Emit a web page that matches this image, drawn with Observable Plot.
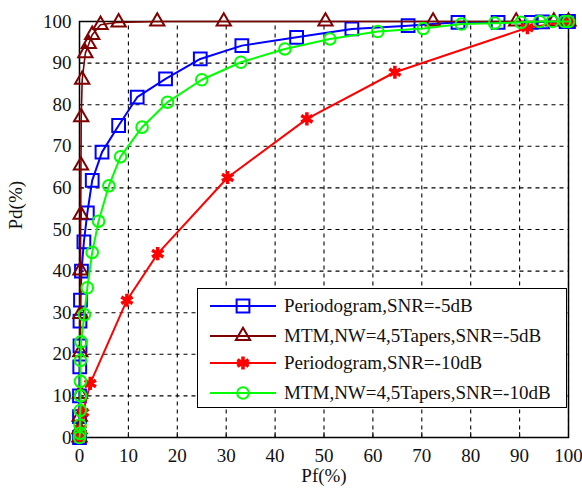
<!DOCTYPE html>
<html>
<head>
<meta charset="utf-8">
<script src="https://cdn.jsdelivr.net/npm/d3@7"></script>
<script src="https://cdn.jsdelivr.net/npm/@observablehq/plot@0.6"></script>
<style>
  html, body { margin: 0; padding: 0; background: #fff; }
  #wrap { position: relative; width: 582px; height: 490px; font-family: "Liberation Serif", "Times New Roman", serif; }
  #legend { position: absolute; left: 197px; top: 288px; width: 370px; height: 120px; background: #fff;
            border: 1.5px solid #000; box-sizing: border-box; }
  #legend .row { position: absolute; left: 10px; height: 26px; display: flex; align-items: center;
                 font-family: "Liberation Serif", "Times New Roman", serif; font-size: 19px; color: #111; white-space: nowrap; }
  #legend svg { margin-right: 8px; }
</style>
</head>
<body>
<div id="wrap"></div>
<script>
// ROC curves: detection probability Pd(%) against false-alarm probability Pf(%)

// Periodogram, SNR = -5 dB
const pfPer5 = [0, 0, 0, 0.05, 0.1, 0.1, 0.2, 0.4, 0.9, 1.6, 2.6, 4.6, 8.0, 11.8, 17.6, 24.7, 33.2, 44.4, 55.7, 67.2, 77.4, 85.6, 92.4, 94.7, 99.5, 100];
const pdPer5 = [0, 5, 10, 17, 22, 28, 33, 40, 47, 54, 61.8, 68.6, 75, 81.8, 86.2, 91, 94.2, 96.2, 98.2, 99, 99.8, 99.8, 99.8, 99.9, 100, 100];

// MTM, NW=4, 5 tapers, SNR = -5 dB
const pfMtm5 = [0, 0, 0.05, 0.1, 0.15, 0.2, 0.2, 0.25, 0.3, 0.35, 0.55, 1.2, 1.9, 2.6, 4.3, 8.0, 15.9, 29.5, 50.3, 72.3, 89.3, 97, 100];
const pdMtm5 = [0, 2, 5, 10.5, 20.5, 29.7, 40.2, 53.6, 65.4, 77, 86, 92.4, 94.6, 96.8, 99.2, 99.8, 100, 100, 100, 100, 100, 100, 100];

// Periodogram, SNR = -10 dB
const pfPer10 = [0, 0.2, 0.7, 2.2, 9.7, 16, 30.3, 46.5, 64.5, 91.6, 100];
const pdPer10 = [0, 2, 6, 13, 33, 44.2, 62.5, 76.6, 87.8, 98.5, 100];

// MTM, NW=4, 5 tapers, SNR = -10 dB
const pfMtm10 = [0, 0.1, 0.1, 0.15, 0.2, 0.2, 0.2, 0.3, 1.0, 1.6, 2.6, 3.9, 6.0, 8.4, 12.8, 18.0, 25.0, 33.0, 42.0, 51.2, 61.0, 70.3, 78.1, 84.9, 90.3, 94.1, 96.7, 99.2, 100];
const pdMtm10 = [0, 1, 3, 6.5, 10, 13.5, 18.5, 23, 29.5, 36, 44.5, 52, 60.5, 67.5, 74.6, 80.6, 86, 90.2, 93.4, 95.8, 97.6, 98.3, 99.4, 99.6, 99.8, 100, 100, 100, 100];

const seriesNames = [
  "Periodogram,SNR=-5dB",
  "MTM,NW=4,5Tapers,SNR=-5dB",
  "Periodogram,SNR=-10dB",
  "MTM,NW=4,5Tapers,SNR=-10dB"
];
const seriesColors = ["#0000ff", "#800000", "#ff0000", "#00ff00"];
const seriesSymbols = ["square", "triangle", "asterisk", "circle"];
const seriesR = [7.2, 5.3, 6.2, 5.8];
const xTicks = d3.range(0, 101, 10);
const yTicks = d3.range(0, 101, 10);

const toRows = (pf, pd, i) => pf.map((x, k) => ({pf: x, pd: pd[k], s: seriesNames[i]}));
const series = [
  toRows(pfPer5, pdPer5, 0),
  toRows(pfMtm5, pdMtm5, 1),
  toRows(pfPer10, pdPer10, 2),
  toRows(pfMtm10, pdMtm10, 3)
];

const font = '"Liberation Serif", "Times New Roman", serif';
const gridStyle = {stroke: "black", strokeOpacity: 1, strokeWidth: 1.1, strokeDasharray: "4,4"};

// dashed grid as path segments spanning the full axis range
const marks = [
  Plot.link(xTicks, {x1: d => d, x2: d => d, y1: () => 0, y2: () => 100, ...gridStyle}),
  Plot.link(yTicks, {y1: d => d, y2: d => d, x1: () => 0, x2: () => 100, ...gridStyle}),
  Plot.axisX(xTicks, {tickSize: -5, tickPadding: 16, fontSize: 19, label: null, color: "#111"}),
  Plot.axisY(yTicks, {tickSize: -5, tickPadding: 13, fontSize: 19, label: null, color: "#111"}),
  Plot.frame({stroke: "#000", strokeWidth: 1.5})
];
series.forEach((rows, i) => {
  marks.push(Plot.line(rows, {x: "pf", y: "pd", stroke: seriesColors[i], strokeWidth: i === 1 ? 1.6 : 2}));
  marks.push(Plot.dot(rows, {
    x: "pf", y: "pd", symbol: () => seriesSymbols[i], r: seriesR[i],
    stroke: seriesColors[i], strokeWidth: i === 2 ? 3.5 : 2,
    fill: i === 2 ? seriesColors[i] : "none"
  }));
});

const chart = Plot.plot({
  width: 582,
  height: 490,
  marginLeft: 79,
  marginRight: 14,
  marginTop: 21,
  marginBottom: 53,
  style: {fontFamily: font, fontSize: "19px", background: "#fff", color: "#111"},
  x: {domain: [0, 100]},
  y: {domain: [0, 100]},
  symbol: {type: "identity"},
  marks: [
    ...marks,
    Plot.text(["Pf(%)"], {frameAnchor: "bottom", dy: 44, fontSize: 19, fontFamily: font}),
    Plot.text(["Pd(%)"], {frameAnchor: "left", dx: -64, rotate: -90, fontSize: 19, fontFamily: font})
  ]
});

const wrap = document.getElementById("wrap");
wrap.appendChild(chart);

// legend box drawn over the lower right of the plot area
const legend = d3.select(wrap).append("div").attr("id", "legend");
const rowTops = [4, 34, 61, 91];
const d3Symbols = {square: d3.symbolSquare, triangle: d3.symbolTriangle, asterisk: d3.symbolAsterisk, circle: d3.symbolCircle};
seriesNames.forEach((name, i) => {
  const row = legend.append("div").attr("class", "row").style("top", rowTops[i] + "px");
  const sw = row.append("svg").attr("width", 68).attr("height", 20);
  sw.append("line").attr("x1", 2).attr("x2", 68).attr("y1", 10).attr("y2", 10)
    .attr("stroke", seriesColors[i]).attr("stroke-width", 2.2);
  const sym = d3.symbol(d3Symbols[seriesSymbols[i]], Math.PI * seriesR[i] * seriesR[i]);
  sw.append("path").attr("d", sym()).attr("transform", "translate(35,10)")
    .attr("stroke", seriesColors[i]).attr("stroke-width", i === 2 ? 3.5 : 2)
    .attr("fill", i === 2 ? seriesColors[i] : "none");
  row.append("span").text(name);
});
</script>
</body>
</html>
